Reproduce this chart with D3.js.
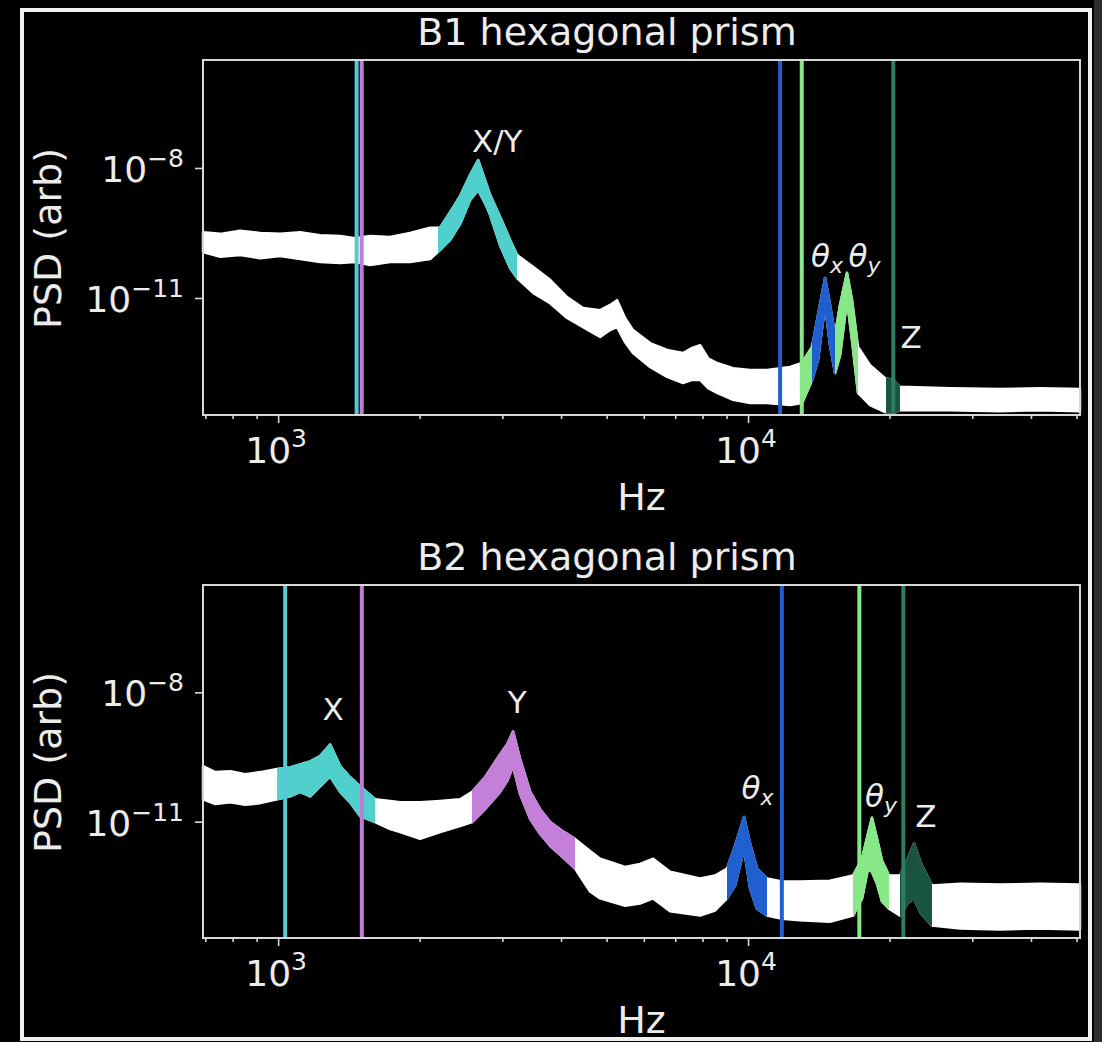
<!DOCTYPE html>
<html>
<head>
<meta charset="utf-8">
<script src="https://cdn.jsdelivr.net/npm/d3@7"></script>
<style>
  html, body { margin: 0; padding: 0; background: #000; }
  svg { display: block; }
  text { font-family: "DejaVu Sans", sans-serif; fill: #ececec; }
</style>
</head>
<body>
<svg id="chart" width="1102" height="1042"></svg>
<script>
// axis ranges and tick values
const xDomain = [692, 50860];
const yDomain = [2.0e-14, 3.1e-6];
const xMajorTicks = [1e3, 1e4];
const xTickExp = ["3", "4"];
const yMajorTicks = [1e-8, 1e-11];
const yTickExp = ["\u22128", "\u221211"];

// B1: frequency (Hz) with upper / lower edge of the noisy PSD band (log10 of PSD)
const b1Freq = [692, 753, 830, 916, 1010, 1114, 1228, 1355, 1458, 1569, 1731, 1909, 2106, 2212, 2323,
  2439, 2562, 2665, 2756, 2825, 2967, 3116, 3225, 3487, 3791, 4120, 4456, 4843, 5087, 5263,
  5474, 5691, 6186, 6724, 7272, 7603, 7905, 8221, 8590, 9290, 10100, 10975, 12286, 13030, 13685,
  14090, 14584, 14944, 15316, 15695, 16238, 16643, 17140, 18180, 19566, 20343, 21058, 26900, 34380, 41820, 50860];
const b1Upper = [-9.48, -9.52, -9.45, -9.50, -9.52, -9.48, -9.55, -9.57, -9.62, -9.57, -9.59, -9.50, -9.38, -9.38, -9.02,
  -8.65, -8.16, -7.82, -8.28, -8.62, -9.13, -9.66, -10.01, -10.28, -10.58, -10.98, -11.23, -11.28, -11.16, -11.05,
  -11.46, -11.74, -12.04, -12.20, -12.27, -12.15, -12.09, -12.39, -12.50, -12.62, -12.66, -12.66, -12.59, -12.50, -12.13,
  -11.39, -10.54, -11.16, -11.85, -11.16, -10.42, -11.05, -12.13, -12.55, -12.85, -12.89, -13.05, -13.08, -13.10, -13.08, -13.10];
const b1Lower = [-9.94, -10.05, -10.01, -10.08, -10.03, -10.10, -10.17, -10.19, -10.17, -10.24, -10.17, -10.17, -10.10, -9.89, -9.66,
  -9.29, -8.74, -8.51, -8.81, -9.08, -9.78, -10.31, -10.54, -10.88, -11.12, -11.46, -11.67, -11.90, -11.74, -11.67,
  -12.02, -12.27, -12.59, -12.82, -12.96, -12.89, -12.89, -13.08, -13.19, -13.35, -13.42, -13.42, -13.47, -13.42, -12.89,
  -12.43, -11.16, -12.09, -12.73, -12.32, -11.05, -11.97, -13.19, -13.47, -13.63, -13.65, -13.59, -13.59, -13.61, -13.59, -13.61];
// B1 highlighted mode ranges (Hz)
const b1BandMode = ["x", "ty", "tx", "ty", "z"];
const b1BandStart = [2190, 13030, 13685, 15316, 19660];
const b1BandEnd = [3225, 13685, 15316, 17140, 21058];
// B1 vertical marker lines (Hz)
const b1LineMode = ["x", "y", "tx", "ty", "z"];
const b1LineFreq = [1469, 1506, 11700, 13010, 20370];
// B1 peak labels
const b1LabelText = ["X/Y", "θx", "θy", "Z"];
const b1LabelFreq = [2926, 14720, 17700, 22230];
const b1LabelPsd = [2.34e-8, 5.2e-11, 5.2e-11, 7.0e-13];

// B2: frequency (Hz) with upper / lower edge of the PSD band (log10 of PSD)
const b2Freq = [692, 735, 791, 851, 916, 995, 1061, 1114, 1170, 1228, 1290, 1355, 1423, 1494, 1609,
  1731, 1818, 2005, 2212, 2439, 2587, 2756, 2967, 3070, 3162, 3273, 3439, 3609, 3791, 4021,
  4284, 4611, 4843, 5474, 5890, 6280, 6823, 7905, 8508, 9022, 9383, 9806, 10100, 10450, 10975,
  11810, 12900, 14944, 16725, 17480, 17995, 18350, 18810, 19280, 19953, 21058, 21790, 22550, 23340, 24630,
  28260, 34380, 41820, 50860];
const b2Upper = [-9.71, -9.85, -9.83, -9.90, -9.85, -9.78, -9.74, -9.67, -9.60, -9.48, -9.21, -9.71, -9.97, -10.18, -10.48,
  -10.52, -10.55, -10.55, -10.52, -10.48, -10.31, -9.97, -9.44, -9.21, -8.91, -9.55, -10.31, -10.71, -11.01, -11.21,
  -11.40, -11.68, -11.86, -12.05, -11.98, -11.86, -12.16, -12.32, -12.25, -12.09, -11.56, -10.89, -11.51, -12.09, -12.32,
  -12.39, -12.39, -12.37, -12.25, -11.86, -11.28, -10.91, -11.40, -11.91, -12.25, -12.25, -11.91, -11.51, -11.98, -12.48,
  -12.44, -12.46, -12.44, -12.46];
const b2Lower = [-10.48, -10.59, -10.55, -10.61, -10.57, -10.48, -10.41, -10.31, -10.41, -10.18, -9.95, -10.31, -10.55, -10.87, -11.01,
  -11.17, -11.24, -11.40, -11.24, -11.10, -11.01, -10.71, -10.31, -10.06, -9.71, -10.36, -10.94, -11.28, -11.56, -11.81,
  -12.09, -12.62, -12.78, -12.95, -12.90, -12.78, -13.08, -13.18, -13.06, -12.78, -12.48, -11.63, -12.55, -13.02, -13.18,
  -13.25, -13.29, -13.32, -13.18, -12.78, -12.09, -12.16, -12.44, -12.85, -13.02, -13.18, -12.90, -12.78, -13.13, -13.41,
  -13.48, -13.50, -13.48, -13.50];
const b2BandMode = ["x", "y", "tx", "ty", "z"];
const b2BandStart = [995, 2587, 9022, 16725, 21058];
const b2BandEnd = [1609, 4284, 10975, 19953, 24630];
const b2LineMode = ["x", "y", "tx", "ty", "z"];
const b2LineFreq = [1035, 1507, 11800, 17250, 21400];
const b2LabelText = ["X", "Y", "θx", "θy", "Z"];
const b2LabelFreq = [1309, 3225, 10470, 19190, 23910];
const b2LabelPsd = [2.34e-9, 3.4e-9, 3.34e-11, 2.18e-11, 7.5e-12];

// colours
const bandColor = { x: "#4fd0cc", y: "#c47fd9", tx: "#1f5fcf", ty: "#86e886", z: "#1a5540" };
const lineColor = { x: "#57c9d3", y: "#c07cd6", tx: "#1f5fd0", ty: "#86e886", z: "#2f7d60" };

const W = 1102, H = 1042;
const plotLeft = 203, plotRight = 1080;
const svg = d3.select("#chart");

svg.append("rect").attr("width", W).attr("height", H).attr("fill", "#000");
// grey strip at the right edge of the capture
svg.append("rect").attr("x", 1094).attr("y", 0).attr("width", 8).attr("height", H).attr("fill", "#2e2e2e");
// outer white frame
svg.append("rect")
    .attr("x", 22).attr("y", 10)
    .attr("width", 1068).attr("height", 1029)
    .attr("fill", "none")
    .attr("stroke", "#f0f0f0")
    .attr("stroke-width", 4);

let x = d3.scaleLog().domain(xDomain).range([plotLeft, plotRight]);

function drawPanel(p) {
    let y = d3.scaleLog().domain(yDomain).range([p.bottom, p.top]);
    let g = svg.append("g");

    let pts = p.freq.map((f, i) => ({ f: f, hi: p.upper[i], lo: p.lower[i] }));
    let area = d3.area()
        .x(d => x(d.f))
        .y0(d => y(Math.pow(10, d.lo)))
        .y1(d => y(Math.pow(10, d.hi)));

    // white spectrum band
    g.append("path").datum(pts)
        .attr("d", area)
        .attr("fill", "#fff")
        .attr("stroke", "#fff")
        .attr("stroke-width", 2.5)
        .attr("stroke-linejoin", "round");

    // coloured mode ranges drawn over the same band
    p.bandStart.forEach((f0, i) => {
        let id = "clip-" + p.id + "-" + i;
        svg.append("clipPath").attr("id", id)
            .append("rect")
            .attr("x", x(f0))
            .attr("y", p.top)
            .attr("width", x(p.bandEnd[i]) - x(f0))
            .attr("height", p.bottom - p.top);
        let c = bandColor[p.bandMode[i]];
        g.append("path").datum(pts)
            .attr("d", area)
            .attr("fill", c)
            .attr("stroke", c)
            .attr("stroke-width", 2.5)
            .attr("stroke-linejoin", "round")
            .attr("clip-path", "url(#" + id + ")");
    });

    // vertical marker lines
    g.selectAll(".vline")
        .data(p.lineFreq)
        .enter()
        .append("line")
        .attr("class", "vline")
        .attr("x1", d => x(d)).attr("x2", d => x(d))
        .attr("y1", p.top).attr("y2", p.bottom)
        .attr("stroke", (d, i) => lineColor[p.lineMode[i]])
        .attr("stroke-width", 4);

    // frame of the axes
    g.append("rect")
        .attr("x", plotLeft).attr("y", p.top)
        .attr("width", plotRight - plotLeft)
        .attr("height", p.bottom - p.top)
        .attr("fill", "none")
        .attr("stroke", "#d8d8d8")
        .attr("stroke-width", 2);

    // x ticks: minor then major
    let minor = x.ticks().filter(t => !xMajorTicks.includes(t));
    let xAxisMinor = g.append("g")
        .attr("transform", `translate(0,${p.bottom})`)
        .call(d3.axisBottom(x).tickValues(minor).tickSize(4).tickFormat(""));
    let xAxisMajor = g.append("g")
        .attr("transform", `translate(0,${p.bottom})`)
        .call(d3.axisBottom(x).tickValues(xMajorTicks).tickSize(8).tickFormat(""));
    let yAxis = g.append("g")
        .attr("transform", `translate(${plotLeft},0)`)
        .call(d3.axisLeft(y).tickValues(yMajorTicks).tickSize(8).tickFormat(""));
    [xAxisMinor, xAxisMajor, yAxis].forEach(a => {
        a.select(".domain").remove();
        a.selectAll("line").attr("stroke", "#d8d8d8").attr("stroke-width", 1.6);
    });

    // x tick labels 10^n
    xMajorTicks.forEach((t, i) => {
        let lab = g.append("text")
            .attr("x", x(t) - 2)
            .attr("y", p.bottom + 48)
            .attr("text-anchor", "middle")
            .style("font-size", "36px");
        lab.append("tspan").text("10");
        lab.append("tspan").attr("dy", -16).style("font-size", "25px").text(xTickExp[i]);
    });

    // y tick labels 10^n
    yMajorTicks.forEach((t, i) => {
        let lab = g.append("text")
            .attr("x", 184)
            .attr("y", y(t) + 14)
            .attr("text-anchor", "end")
            .style("font-size", "36px");
        lab.append("tspan").text("10");
        lab.append("tspan").attr("dy", -15).style("font-size", "25px").text(yTickExp[i]);
    });

    // peak labels
    p.labelText.forEach((s, i) => {
        let lab = g.append("text")
            .attr("x", x(p.labelFreq[i]))
            .attr("y", y(p.labelPsd[i]))
            .attr("text-anchor", "middle")
            .style("font-size", "31px");
        if (s[0] === "θ") {
            lab.append("tspan").style("font-style", "oblique").text("θ");
            lab.append("tspan").attr("dy", 6).style("font-style", "oblique").style("font-size", "22px").text(s.slice(1));
        } else {
            lab.text(s);
        }
    });

    // titles
    svg.append("text")
        .attr("x", 607).attr("y", p.top - 15)
        .attr("text-anchor", "middle")
        .style("font-size", "38px")
        .text(p.title);

    svg.append("text")
        .attr("x", (plotLeft + plotRight) / 2)
        .attr("y", p.bottom + 95)
        .attr("text-anchor", "middle")
        .style("font-size", "38px")
        .text("Hz");

    svg.append("text")
        .attr("transform", `translate(61,${(p.top + p.bottom) / 2 + 1}) rotate(-90)`)
        .attr("text-anchor", "middle")
        .style("font-size", "38px")
        .text("PSD (arb)");
}

drawPanel({
    id: "b1", title: "B1 hexagonal prism", top: 60, bottom: 415,
    freq: b1Freq, upper: b1Upper, lower: b1Lower,
    bandMode: b1BandMode, bandStart: b1BandStart, bandEnd: b1BandEnd,
    lineMode: b1LineMode, lineFreq: b1LineFreq,
    labelText: b1LabelText, labelFreq: b1LabelFreq, labelPsd: b1LabelPsd
});

drawPanel({
    id: "b2", title: "B2 hexagonal prism", top: 585, bottom: 938,
    freq: b2Freq, upper: b2Upper, lower: b2Lower,
    bandMode: b2BandMode, bandStart: b2BandStart, bandEnd: b2BandEnd,
    lineMode: b2LineMode, lineFreq: b2LineFreq,
    labelText: b2LabelText, labelFreq: b2LabelFreq, labelPsd: b2LabelPsd
});
</script>
</body>
</html>
